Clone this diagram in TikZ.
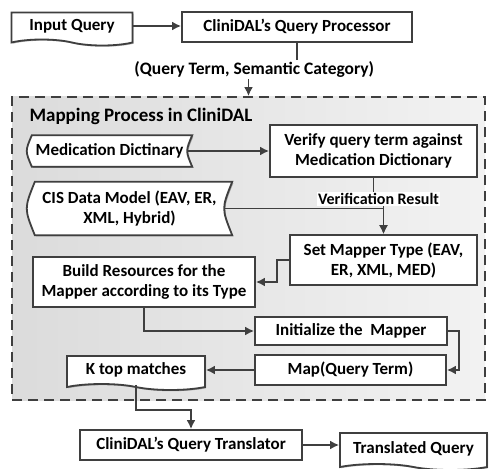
\documentclass[tikz,border=0pt]{standalone}
\usepackage{fontspec}
\setmainfont{Carlito}
\usetikzlibrary{arrows.meta}
\usetikzlibrary{shapes.symbols}
\usetikzlibrary{shadows}
\usetikzlibrary{fit}
\usetikzlibrary{backgrounds}
\definecolor{lineclr}{HTML}{3F3F3F}

\tikzset{
  every node/.style={font=\bfseries\fontsize{17}{20}\selectfont},
  boxshadow/.style={drop shadow={shadow xshift=1.2pt, shadow yshift=-1.2pt, opacity=.3, fill=black}},
  procbox/.style={draw=lineclr, line width=1.8pt, fill=white, align=center, inner sep=2pt, boxshadow},
  docbox/.style={tape, tape bend top=none, tape bend bottom=out and in, tape bend height=6pt,
    draw=lineclr, line width=1.8pt, fill=white, align=center, inner sep=2pt, boxshadow},
  storebox/.style={align=center, inner sep=2pt},
  storeline/.style={draw=lineclr, line width=1.8pt, fill=white, boxshadow},
  zonebox/.style={draw=lineclr, line width=1.8pt, dash pattern=on 10pt off 6pt,
    left color=black!14, right color=black!5, inner sep=0pt},
  conn/.style={draw=lineclr, line width=1.8pt},
  arr/.style={conn, -{Latex[length=9pt, width=9pt]}},
  edgelbl/.style={fill=white, inner sep=1.5pt},
  bigedgelbl/.style={font=\bfseries\fontsize{17.5}{20}\selectfont},
  smalllbl/.style={font=\bfseries\fontsize{16}{19}\selectfont},
  titlelbl/.style={font=\bfseries\fontsize{19}{22}\selectfont}
}

\begin{document}
\begin{tikzpicture}[x=1pt, y=-1pt]
  \useasboundingbox (0,0) rectangle (489,468);

  % query comes in
  \node [docbox, minimum width=121, minimum height=33] (inq) at (72,26) {Input Query};
  \node [procbox, minimum width=230, minimum height=30] (proc) at (297,27) {CliniDAL's Query Processor};

  % inside the mapping process
  \node [titlelbl, anchor=west] (ttl) at (26,116) {Mapping Process in CliniDAL};
  \node [storebox, minimum width=165, minimum height=31] (med) at (109.5,151) {Medication Dictinary};
  \node [procbox, minimum width=207, minimum height=52] (verify) at (373.5,151) {Verify query term against\\Medication Dictionary};
  \node [storebox, minimum width=205, minimum height=53] (cis) at (129.5,208.5) {CIS Data Model (EAV, ER,\\XML, Hybrid)};
  \node [procbox, minimum width=187, minimum height=50] (setm) at (383.5,260) {Set Mapper Type (EAV,\\ER, XML, MED)};
  \node [procbox, minimum width=222, minimum height=50] (build) at (144,282) {Build Resources for the\\Mapper according to its Type};
  \node [procbox, minimum width=192, minimum height=28] (init) at (351,331) {Initialize the\ \ Mapper};
  \node [procbox, minimum width=191, minimum height=30] (map) at (350.5,370) {Map(Query Term)};
  \node [docbox, minimum width=138, minimum height=34] (ktop) at (136,370) {K top matches};

  % translation
  \node [procbox, minimum width=222, minimum height=30] (trans) at (191,445) {CliniDAL's Query Translator};
  \node [docbox, minimum width=147, minimum height=37] (tq) at (413.5,448.5) {Translated Query};

  \begin{scope}[on background layer]
    \node [zonebox, fit={(12,97) (485,400)}] (zone) {};
    \draw [storeline] ([xshift=5]med.north west) -- (med.north east)
      .. controls ([xshift=-6.7]med.east) .. (med.south east)
      -- ([xshift=5]med.south west)
      .. controls ([xshift=-1.7]med.west) .. ([xshift=5]med.north west) -- cycle;
    \draw [storeline] ([xshift=8]cis.north west) -- (cis.north east)
      .. controls ([xshift=-10.7]cis.east) .. (cis.south east)
      -- ([xshift=8]cis.south west)
      .. controls ([xshift=-2.7]cis.west) .. ([xshift=8]cis.north west) -- cycle;
  \end{scope}

  \draw [arr] (inq.east) -- (inq.east -| proc.west);
  \draw [arr] (proc.south) -- ++(0,27) -| node [edgelbl, bigedgelbl, pos=0.44] (qlbl) {(Query Term, Semantic Category)} (zone.north);
  \draw [arr] ([xshift=-5]med.east) -- (verify.west);
  \draw [arr] (verify.south) -- ++(0,21) -| node [edgelbl, smalllbl, pos=0.25] (vlbl) {Verification Result} (setm.north);
  \draw [arr] ([xshift=-8]cis.east) -| (setm.north);
  \draw [arr] (setm.west) -- ++(-12,0) |- (build.east);
  \draw [arr] (build.south) |- (init.west);
  \draw [arr] (init.east) -- ++(11,0) |- (map.east);
  \draw [arr] (map.west) -- (map.west -| ktop.east);
  \draw [arr] (ktop.south) -- ++(0,25) -| (trans.north);
  \draw [arr] (trans.east) -- (trans.east -| tq.west);
\end{tikzpicture}
\end{document}
